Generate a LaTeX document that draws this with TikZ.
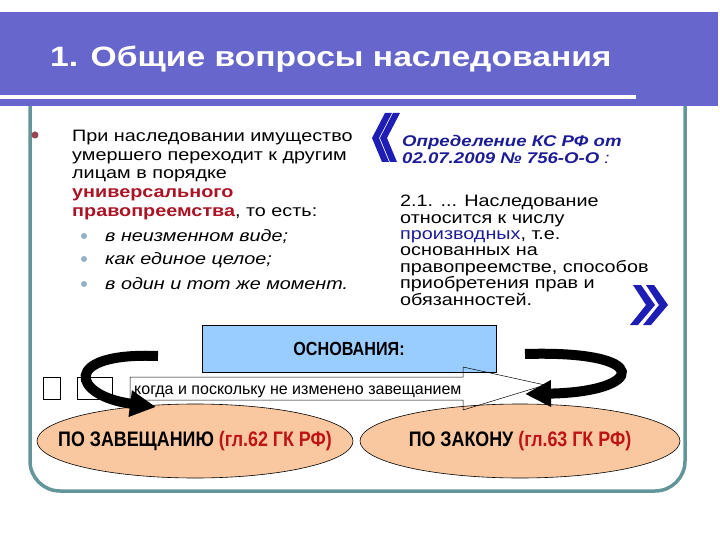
\documentclass[tikz,border=0pt]{standalone}
\usepackage{fontspec}
\setmainfont[FakeStretch=1.2]{Liberation Sans}
\newfontfamily\narrowfont[FakeStretch=0.85]{Liberation Sans}
\newfontfamily\plainfont{Liberation Sans}
\usetikzlibrary{shapes.geometric,arrows.meta}

\definecolor{bandblue}{RGB}{102,102,204}
\definecolor{frameteal}{RGB}{98,150,152}
\definecolor{boxblue}{RGB}{153,204,255}
\definecolor{peach}{RGB}{250,200,160}
\definecolor{lawred}{RGB}{170,20,36}
\definecolor{artred}{RGB}{190,20,20}
\definecolor{ksblue}{RGB}{28,28,150}
\definecolor{quoteblue}{RGB}{30,30,180}
\definecolor{dotred}{RGB}{150,70,82}
\definecolor{dotgray}{RGB}{150,175,200}

\tikzset{
  leftpar/.style={anchor=north west, align=left, inner sep=0pt, font=\fontsize{16.5}{18.7}\selectfont},
  subitem/.style={anchor=base west, inner sep=0pt, font=\fontsize{16.5}{18.7}\selectfont\itshape},
  rightpar/.style={anchor=north west, align=left, inner sep=0pt, font=\fontsize{16.5}{16.4}\selectfont},
  basis/.style={ellipse, draw=black, line width=0.6pt, fill=peach, minimum width=316pt, minimum height=74pt, inner sep=0pt},
  basistext/.style={inner sep=0pt, font=\narrowfont\bfseries\fontsize{21}{21}\selectfont},
  turnarrow/.style={line width=10pt, -{Triangle[width=25pt,length=26pt]}},
}

\begin{document}
\begin{tikzpicture}[x=1pt,y=-1pt]
    \useasboundingbox (0,0) rectangle (720,540);

    % Title band
    \fill[bandblue] (0,12) rectangle (718,106);
    \fill[white] (0,95) rectangle (636,99);
    \node[white, anchor=base west, inner sep=0pt, font=\bfseries\fontsize{28}{28}\selectfont] (title) at (50,67) {1. Общие вопросы наследования};

    % Rounded frame
    \draw[frameteal, line width=3.5pt, rounded corners=30pt] (30,106) -- (30,491) -- (685,491) -- (685,106);

    % Left text with bullets
    \fill[dotred] (35,135) circle (3.5);
    \node[leftpar] (heir) at (72,130) {При наследовании имущество\\умершего переходит к другим\\лицам в порядке\\\textcolor{lawred}{\bfseries универсального}\\\textcolor{lawred}{\bfseries правопреемства}, то есть:};
    \foreach \yy/\txt [count=\i] in {241/в неизменном виде;, 264/как единое целое;, 289/в один и тот же момент.} {
        \fill[dotgray] (84,\yy-5) circle (3);
        \node[subitem] (sub\i) at (105,\yy) {\txt};
    }

    % Quote marks, drawn as slanted chevrons
    \foreach \dx in {0,8} {
        \fill[quoteblue] (372+\dx,138) -- (385+\dx,113) -- (392+\dx,113) -- (379+\dx,138)
            -- (389+\dx,162) -- (382+\dx,162) -- cycle;
    }
    \foreach \dx in {0,13} {
        \fill[quoteblue] (655+\dx,305) -- (641+\dx,285) -- (633+\dx,285) -- (646+\dx,305)
            -- (630+\dx,325) -- (638+\dx,325) -- cycle;
    }

    % Quotation from the Constitutional Court
    \node[anchor=north west, align=left, inner sep=0pt, ksblue, font=\bfseries\itshape\fontsize{15.5}{17}\selectfont] (ksdef) at (402,135) {Определение КС РФ от\\02.07.2009 № 756-О-О {\mdseries :}};
    \node[rightpar] (kstext) at (400,195) {2.1. ... Наследование\\относится к числу\\\textcolor{ksblue}{производных}, т.е.\\основанных на\\правопреемстве, способов\\приобретения прав и\\обязанностей.};

    % Grounds box
    \node[draw=black, line width=0.6pt, fill=boxblue, minimum width=294pt, minimum height=47pt, font=\narrowfont\bfseries\fontsize{19}{19}\selectfont] (osn) at (349,348.5) {ОСНОВАНИЯ:};

    % Two grounds
    \node[basis] (zav) at (195,441) {};
    \node[basistext] (zavtext) at (zav.center) {ПО ЗАВЕЩАНИЮ \textcolor{artred}{(гл.62 ГК РФ)}};
    \node[basis, minimum width=320pt] (zak) at (520,441) {};
    \node[basistext] (zaktext) at (zak.center) {ПО ЗАКОНУ \textcolor{artred}{(гл.63 ГК РФ)}};

    % Callout between them
    \draw[line width=0.5pt] (130,377) -- (463,377) -- (463,367) -- (545,385) -- (463,410) -- (463,400) -- (130,400) -- cycle;
    \node[anchor=base west, inner sep=0pt, font=\plainfont\fontsize{16}{16}\selectfont] (unless) at (134,394) {когда и поскольку не изменено завещанием};
    \draw[line width=0.5pt] (43,377) rectangle (60,399);
    \draw[line width=0.5pt] (77,377) rectangle (112,399);

    % Curved arrows
    \coordinate (lstart) at (158,356);
    \coordinate (ltip) at (156,407);
    \coordinate (rstart) at (525,354);
    \coordinate (rtip) at (525,394);
    \draw[turnarrow] (lstart) .. controls (60,352) and (72,396) .. (ltip);
    \draw[turnarrow] (rstart) .. controls (655,350) and (645,392) .. (rtip);
\end{tikzpicture}
\end{document}
